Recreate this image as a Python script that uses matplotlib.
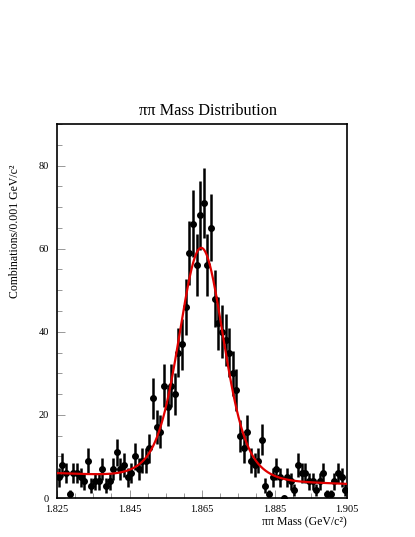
import numpy as np
import matplotlib
matplotlib.use("Agg")
import matplotlib.pyplot as plt
from matplotlib.ticker import MultipleLocator, FixedLocator

# ---- data ----
bin_lo, bin_hi, n_bins = 1.825, 1.905, 80
counts = [5, 8, 6, 1, 6, 6, 5, 4, 9, 3,
          4, 4, 7, 3, 4, 7, 11, 7, 8, 5,
          6, 10, 7, 9, 9, 12, 24, 17, 16, 27,
          22, 27, 25, 35, 37, 46, 59, 66, 56, 68,
          71, 56, 65, 48, 42, 40, 38, 35, 30, 26,
          15, 12, 16, 9, 8, 9, 14, 3, 1, 5,
          7, 5, 0, 5, 4, 2, 8, 6, 6, 4,
          4, 2, 4, 6, 1, 1, 4, 6, 5, 2]
x_ticks = [1.825, 1.845, 1.865, 1.885, 1.905]
x_tick_labels = ["1.825", "1.845", "1.865", "1.885", "1.905"]
y_ticks = [0, 20, 40, 60, 80]

# fit parameters (double Gaussian + linear background)
fit_mean = 1.8648
fit_core_amp, fit_core_sigma = 40.0, 0.0055
fit_wide_amp, fit_wide_sigma = 15.5, 0.0090
fit_bkg_left, fit_bkg_right = 6.0, 3.4

title = "\u03c0\u03c0 Mass Distribution"
xlabel = "\u03c0\u03c0 Mass (GeV/c\u00b2)"
ylabel = "Combinations/0.001 GeV/c\u00b2"

# ---- plot ----
plt.rcParams["font.family"] = ["Liberation Serif", "DejaVu Serif"]

W, H = 415, 537
fig = plt.figure(figsize=(W / 100, H / 100), dpi=100)
ax = fig.add_axes([57 / W, 1 - 498 / H, (347 - 57) / W, (498 - 124) / H])

edges = np.linspace(bin_lo, bin_hi, n_bins + 1)
centers = 0.5 * (edges[:-1] + edges[1:])
counts_arr = np.array(counts, dtype=float)
errs = np.sqrt(counts_arr)

ax.errorbar(centers, counts_arr, yerr=errs, fmt="o", color="black",
            markersize=4.0, elinewidth=1.8, capsize=0, zorder=3)

xf = np.linspace(bin_lo, bin_hi, 600)
bkg = fit_bkg_left + (fit_bkg_right - fit_bkg_left) * (xf - bin_lo) / (bin_hi - bin_lo)
sig = (fit_core_amp * np.exp(-0.5 * ((xf - fit_mean) / fit_core_sigma) ** 2)
       + fit_wide_amp * np.exp(-0.5 * ((xf - fit_mean) / fit_wide_sigma) ** 2))
ax.plot(xf, bkg + sig, color="#e00000", linewidth=1.6, zorder=4)

ax.set_xlim(bin_lo, bin_hi)
ax.set_ylim(0, 90)

ax.xaxis.set_major_locator(FixedLocator(x_ticks))
ax.set_xticklabels(x_tick_labels)
ax.xaxis.set_minor_locator(MultipleLocator(0.005))
ax.yaxis.set_major_locator(FixedLocator(y_ticks))
ax.yaxis.set_minor_locator(MultipleLocator(5))

ax.tick_params(axis="both", which="both", direction="in", top=False, right=False,
               labelsize=7.5, width=0.6, color="#888888")
ax.tick_params(axis="both", which="major", length=6)
ax.tick_params(axis="both", which="minor", length=3.5)
ax.tick_params(axis="x", pad=5)
ax.tick_params(axis="y", pad=6)

for s in ax.spines.values():
    s.set_linewidth(1.2)
    s.set_color("black")

fig.text(208 / W, 1 - 111 / H, title, ha="center", va="center", fontsize=11.7)
fig.text(347 / W, 1 - 522 / H, xlabel, ha="right", va="center", fontsize=8.5)
fig.text(15 / W, 1 - 164 / H, ylabel, ha="center", va="top", rotation=90, fontsize=8.5)

fig.savefig("out.png", dpi=100)
